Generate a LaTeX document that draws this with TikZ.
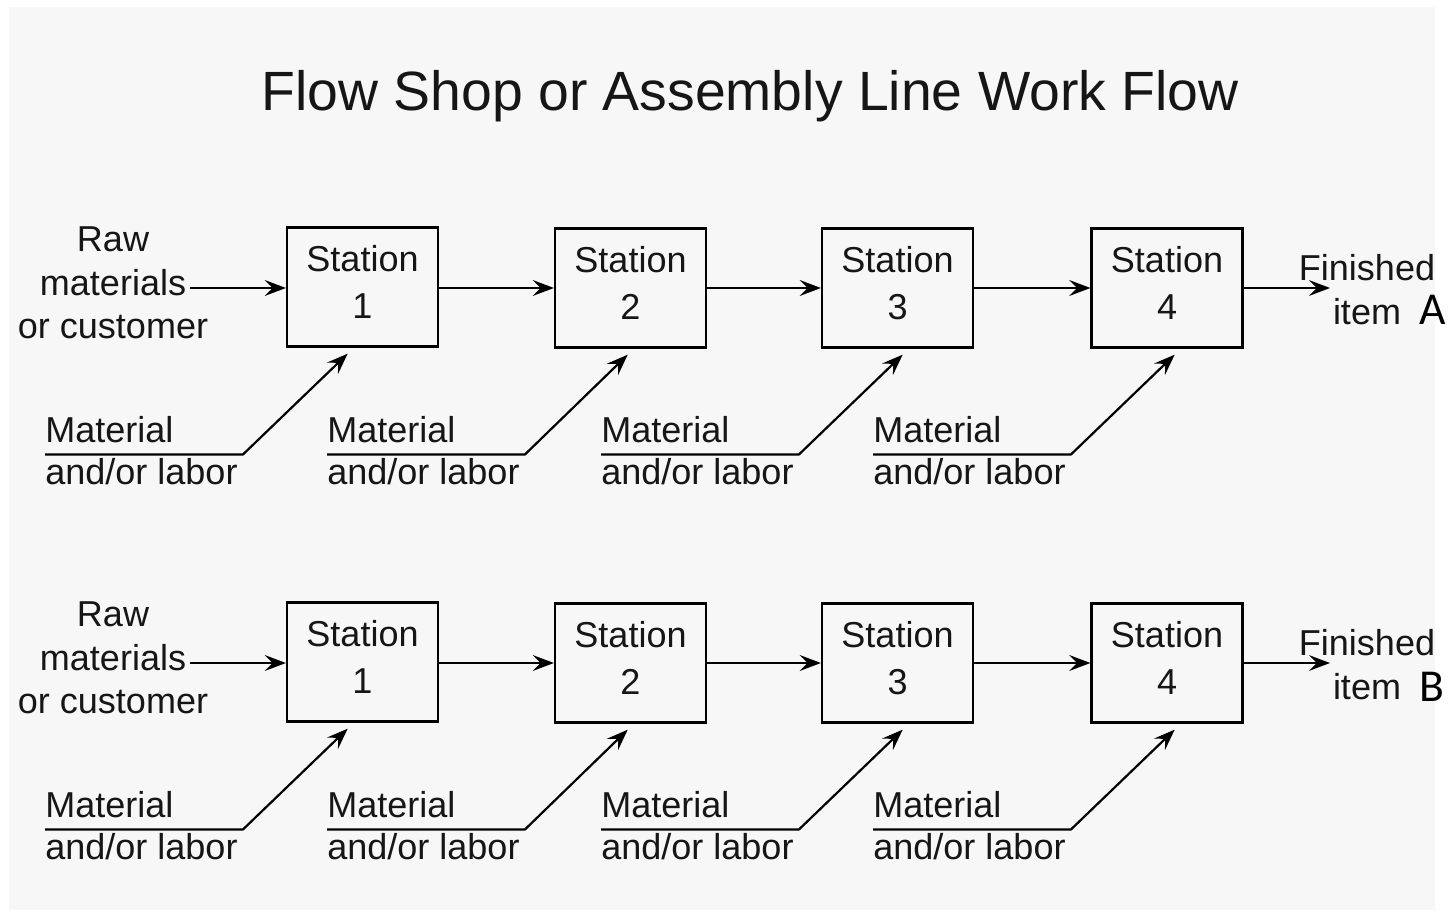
\documentclass[tikz,border=0pt]{standalone}
\usepackage{fontspec}
\setmainfont{Liberation Sans}
\newfontfamily\letterfont{Carlito}
\usetikzlibrary{arrows.meta,positioning}
\definecolor{canvas}{HTML}{F7F7F7}
\definecolor{ink}{HTML}{161616}

\begin{document}
\begin{tikzpicture}[
   x=0.02cm, y=-0.02cm,
   font=\fontsize{20.5}{26.5}\selectfont, text=ink,
   station/.style={draw=black, line width=1.25pt, fill=canvas, align=center,
                   minimum width=3.02cm, minimum height=2.38cm, inner sep=0pt,
                   text depth=5.5pt},
   source/.style={align=center, inner sep=0pt, font=\fontsize{20.5}{24.6}\selectfont},
   supply/.style={align=left, inner sep=0pt, font=\fontsize{20.5}{23.8}\selectfont},
   sink/.style={align=center, inner sep=0pt, font=\fontsize{20.5}{25}\selectfont},
   tag/.style={inner sep=0pt, text=black, font=\letterfont\fontsize{26}{30}\selectfont},
   flow/.style={-{Stealth[length=12pt,width=9pt,inset=4.5pt]}, line width=1.25pt, color=black},
   feed/.style={flow, shorten >=5pt},
]
  \fill[white] (0,0) rectangle (1452,911);
  \useasboundingbox (0,0) rectangle (1452,911);
  \fill[canvas] (9,7) rectangle (1435,910);

  \node[font=\fontsize{31.5}{36}\selectfont] (title) at (750,96) {Flow Shop or Assembly Line Work Flow};

  % line A
  \node[source] (raw1) at (113,283) {Raw\\materials\\or customer};
  \coordinate (in1) at (190,288);
  \node[station] (s1) at (362.5,287) {Station\\1};
  \node[station] (s2) at (630.5,288) {Station\\2};
  \node[station] (s3) at (897.5,288) {Station\\3};
  \node[station] (s4) at (1167,288) {Station\\4};
  \node[sink] (fin1) at (1367,290) {Finished\\item};
  \coordinate (out1) at (1330,288);
  \node[tag] (tagA) at (1433,310) {A};
  \draw[flow] (in1) -- (s1.west |- in1);
  \draw[flow] (s1.east |- s2.west) -- (s2.west);
  \draw[flow] (s2.east) -- (s3.west);
  \draw[flow] (s3.east) -- (s4.west);
  \draw[flow] (s4.east) -- (out1);
  \node[supply, anchor=west] (m1) at (45,451) {Material\\and/or labor};
  \node[supply, anchor=west] (m2) at (327,451) {Material\\and/or labor};
  \node[supply, anchor=west] (m3) at (601,451) {Material\\and/or labor};
  \node[supply, anchor=west] (m4) at (873,451) {Material\\and/or labor};
  \draw[feed] ([yshift=-0.07cm]m1.west) -- ([xshift=0.1cm,yshift=-0.07cm]m1.east) -- ([xshift=-0.17cm]s1.south);
  \draw[feed] ([yshift=-0.07cm]m2.west) -- ([xshift=0.1cm,yshift=-0.07cm]m2.east) -- ([xshift=0.07cm]s2.south);
  \draw[feed] ([yshift=-0.07cm]m3.west) -- ([xshift=0.1cm,yshift=-0.07cm]m3.east) -- ([xshift=0.23cm]s3.south);
  \draw[feed] ([yshift=-0.07cm]m4.west) -- ([xshift=0.1cm,yshift=-0.07cm]m4.east) -- ([xshift=0.28cm]s4.south);

  % line B
  \node[source] (raw2) at (113,658) {Raw\\materials\\or customer};
  \coordinate (in2) at (190,663);
  \node[station] (t1) at (362.5,662) {Station\\1};
  \node[station] (t2) at (630.5,663) {Station\\2};
  \node[station] (t3) at (897.5,663) {Station\\3};
  \node[station] (t4) at (1167,663) {Station\\4};
  \node[sink] (fin2) at (1367,665) {Finished\\item};
  \coordinate (out2) at (1330,663);
  \node[tag] (tagB) at (1432,687) {B};
  \draw[flow] (in2) -- (t1.west |- in2);
  \draw[flow] (t1.east |- t2.west) -- (t2.west);
  \draw[flow] (t2.east) -- (t3.west);
  \draw[flow] (t3.east) -- (t4.west);
  \draw[flow] (t4.east) -- (out2);
  \node[supply, anchor=west] (n1) at (45,826) {Material\\and/or labor};
  \node[supply, anchor=west] (n2) at (327,826) {Material\\and/or labor};
  \node[supply, anchor=west] (n3) at (601,826) {Material\\and/or labor};
  \node[supply, anchor=west] (n4) at (873,826) {Material\\and/or labor};
  \draw[feed] ([yshift=-0.07cm]n1.west) -- ([xshift=0.1cm,yshift=-0.07cm]n1.east) -- ([xshift=-0.17cm]t1.south);
  \draw[feed] ([yshift=-0.07cm]n2.west) -- ([xshift=0.1cm,yshift=-0.07cm]n2.east) -- ([xshift=0.07cm]t2.south);
  \draw[feed] ([yshift=-0.07cm]n3.west) -- ([xshift=0.1cm,yshift=-0.07cm]n3.east) -- ([xshift=0.23cm]t3.south);
  \draw[feed] ([yshift=-0.07cm]n4.west) -- ([xshift=0.1cm,yshift=-0.07cm]n4.east) -- ([xshift=0.28cm]t4.south);
\end{tikzpicture}
\end{document}
